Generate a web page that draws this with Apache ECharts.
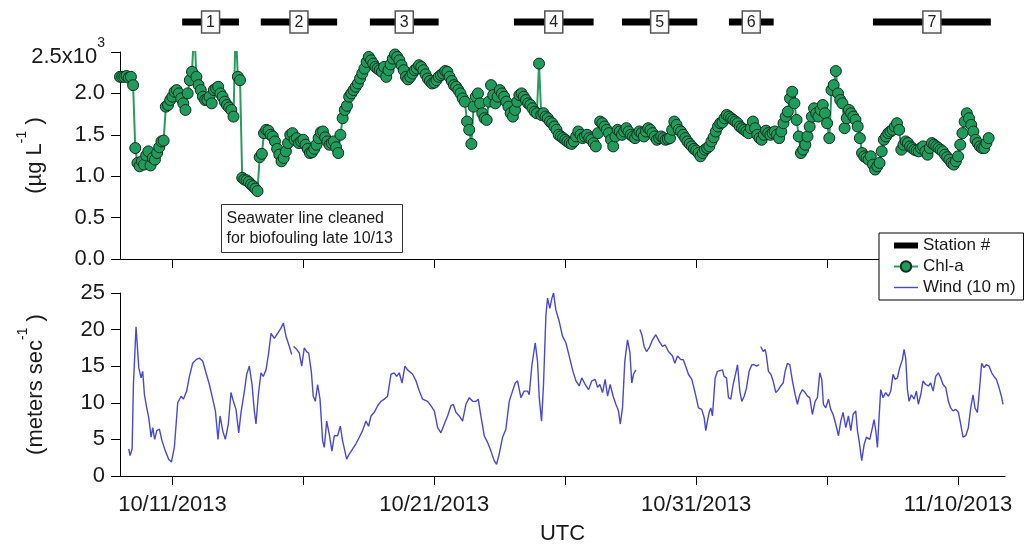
<!DOCTYPE html>
<html>
<head>
<meta charset="utf-8">
<script src="https://cdn.jsdelivr.net/npm/echarts@6/dist/echarts.min.js"></script>
<style>
  html, body { margin: 0; padding: 0; background: #fff; }
  #chart { width: 1024px; height: 546px; }
</style>
</head>
<body>
<div id="chart"></div>
<script>
// Cruise record: chlorophyll-a fluorescence (top) and 10 m wind speed (bottom), Oct-Nov 2013, UTC.
const START = '2013-10-09T00:00:00Z';
const END_HOURS = 811;

// Station occupation periods (UTC)
const stationNames = ['1', '2', '3', '4', '5', '6', '7'];
const stationStart = ['2013-10-11T09:00Z', '2013-10-14T09:00Z', '2013-10-18T13:00Z', '2013-10-24T01:00Z',
                      '2013-10-28T04:00Z', '2013-11-01T06:00Z', '2013-11-06T18:00Z'];
const stationEnd   = ['2013-10-13T13:00Z', '2013-10-17T07:00Z', '2013-10-21T04:00Z', '2013-10-27T02:00Z',
                      '2013-10-31T01:00Z', '2013-11-02T23:00Z', '2013-11-11T06:00Z'];

// Chl-a, sampled every 2 h from START (µg/L)
const chlStepHours = 2;
const chlValues = [
  2200, 2200, 2200, 2210, 2190, 2200, 2100, 1340, 1160, 1120,
  1180, 1140, 1250, 1300, 1130, 1220, 1200, 1280, 1350, 1420,
  1430, 1840, 1860, 1920, 1960, 2020, 2040, 2000, 1940, 1880,
  1800, 2000, 2160, 2260, 2800, 2200, 2100, 2040, 1960, 1920,
  1920, 1960, 1880, 2040, 2060, 2080, 2000, 1960, 1900, 1860,
  1830, 1800, 1720, 2800, 2200, 2160, 980, 960, 950, 930,
  900, 880, 850, 820, 1230, 1270, 1520, 1560, 1550, 1500,
  1480, 1420, 1330, 1260, 1180, 1220, 1300, 1400, 1500, 1520,
  1440, 1460, 1400, 1420, 1440, 1380, 1330, 1280, 1290, 1330,
  1380, 1460, 1530, 1540, 1470, 1420, 1380, 1400, 1420, 1350,
  1280, 1500, 1700, 1800, 1850, 1960, 2000, 2040, 2080, 2120,
  2180, 2240, 2300, 2380, 2440, 2400, 2360, 2320, 2300, 2280,
  2260, 2320, 2200, 2280, 2350, 2420, 2470, 2440, 2400, 2340,
  2280, 2200, 2170, 2200, 2240, 2280, 2300, 2340, 2320, 2280,
  2230, 2180, 2150, 2120, 2130, 2160, 2200, 2220, 2240, 2270,
  2260, 2200, 2150, 2100, 2080, 2040, 2000, 1940, 1900, 1660,
  1560, 1390, 1840, 1960, 2000, 1880, 1760, 1700, 1680, 1900,
  2100, 1980, 1880, 1960, 2040, 2000, 1960, 1900, 1840, 1760,
  1720, 1800, 1900, 1980, 2000, 1960, 1920, 1880, 1860, 1820,
  1780, 1760, 2360, 1740, 1760, 1720, 1700, 1660, 1640, 1600,
  1560, 1500, 1480, 1460, 1440, 1420, 1400, 1390, 1420, 1480,
  1540, 1500, 1460, 1480, 1500, 1460, 1440, 1400, 1360, 1520,
  1660, 1640, 1600, 1560, 1520, 1440, 1360, 1480, 1560, 1540,
  1500, 1540, 1580, 1540, 1500, 1480, 1460, 1500, 1540, 1520,
  1480, 1540, 1580, 1560, 1520, 1480, 1440, 1460, 1480, 1460,
  1440, 1450, 1460, 1560, 1660, 1620, 1560, 1540, 1500, 1460,
  1420, 1390, 1360, 1330, 1310, 1280, 1240, 1280, 1320, 1340,
  1360, 1420, 1470, 1540, 1600, 1640, 1650, 1700, 1740, 1720,
  1700, 1680, 1660, 1640, 1600, 1580, 1560, 1540, 1520, 1580,
  1660, 1580, 1500, 1460, 1440, 1500, 1550, 1520, 1500, 1520,
  1540, 1500, 1460, 1540, 1640, 1720, 1780, 1940, 2020, 1880,
  1680, 1480, 1280, 1320, 1380, 1480, 1600, 1720, 1820, 1760,
  1720, 1800, 1860, 1760, 1640, 1460, 2040, 2100, 2270, 2000,
  1920, 1880, 1580, 1700, 1800, 1760, 1720, 1680, 1600, 1460,
  1280, 1240, 1220, 1200, 1240, 1140, 1080, 1120, 1160, 1300,
  1440, 1480, 1520, 1540, 1560, 1600, 1640, 1560, 1320, 1380,
  1420, 1400, 1360, 1340, 1320, 1310, 1300, 1340, 1360, 1300,
  1260, 1340, 1400, 1380, 1360, 1340, 1320, 1300, 1260, 1230,
  1200, 1160, 1140, 1180, 1240, 1380, 1520, 1660, 1760, 1700,
  1620, 1540, 1440, 1400, 1360, 1340, 1340, 1400, 1460
];

// Wind at 10 m: [hours since START, m/s]; null marks a data gap
const windRecords = [
  [8.0,3.7],[9.2,2.8],[11.1,3.7],[12.3,12.5],[14.7,20.4],[15.9,20.2],[17.2,14.8],[19.3,13.4],[20.8,14.3],[22.4,11.1],
  [24.5,9.3],[26.3,8.0],[28.5,5.3],[30.0,6.6],[31.8,5.0],[33.7,6.2],[36.1,6.4],[38.5,4.8],[41.6,3.4],[44.6,2.3],
  [47.1,1.9],[49.8,3.9],[52.9,10.0],[56.0,10.9],[58.1,10.5],[61.1,11.6],[63.6,13.6],[66.6,15.4],[69.7,15.9],[72.7,16.1],
  [75.8,15.7],[78.8,14.1],[81.9,12.5],[85.0,10.5],[87.4,8.9],[89.8,5.0],[91.7,8.2],[94.1,6.2],[96.5,5.0],[99.3,7.1],
  [101.7,11.4],[103.9,10.2],[106.3,9.1],[108.8,5.9],[110.9,8.7],[114.0,11.6],[116.1,13.9],[118.5,15.0],[121.0,12.5],[123.1,8.9],
  [124.6,7.1],[126.8,11.1],[129.2,14.1],[131.3,13.6],[133.8,14.5],[136.2,16.8],[138.4,19.5],[141.4,18.8],[144.5,19.5],[147.5,20.2],
  [149.7,20.9],[152.1,19.1],[155.2,17.7],[157.3,16.6],[158.2,null],[159.1,17.7],[161.9,17.3],[164.3,16.8],[166.5,15.0],[168.9,17.5],
  [171.0,17.0],[172.9,16.8],[175.3,14.3],[177.1,10.9],[179.0,10.2],[181.1,12.5],[183.3,10.5],[185.7,4.8],[187.2,3.9],[189.4,7.5],
  [191.8,5.7],[194.2,3.4],[196.4,5.5],[199.4,5.5],[201.9,6.8],[204.0,4.8],[207.7,2.3],[210.1,3.0],[213.2,3.7],[216.2,4.4],
  [219.3,5.3],[222.3,6.2],[225.4,7.5],[227.8,6.8],[230.0,8.2],[233.0,8.7],[236.1,9.6],[239.1,10.2],[242.2,10.5],[245.2,10.9],
  [248.3,13.9],[251.3,14.1],[253.5,13.6],[255.9,14.1],[258.4,12.7],[261.1,15.0],[263.5,14.5],
  [265.1,14.3],[268.2,13.9],[271.2,13.0],[274.3,11.6],[277.3,10.5],[281.9,10.2],[284.9,9.6],[288.0,8.9],[291.1,6.6],[294.1,5.9],
  [297.2,7.1],[300.2,8.2],[303.3,9.6],[305.4,9.8],[307.8,8.7],[310.9,8.2],[313.9,7.5],[317.0,9.8],[320.1,10.7],[323.1,10.2],
  [326.2,10.2],[328.3,10.5],[330.7,8.2],[333.8,5.5],[336.8,4.6],[339.9,3.4],[342.9,2.1],[345.1,1.6],[347.5,3.0],[350.6,5.3],
  [353.6,6.4],[356.7,10.2],[359.7,11.6],[362.2,12.7],[364.3,13.0],[365.8,13.2],[367.4,10.7],[370.4,11.6],[373.5,11.6],[375.0,11.1],
  [377.5,15.2],[380.5,18.2],[382.6,15.7],[384.2,10.7],[386.3,7.5],[388.1,12.5],[390.3,22.0],[391.8,24.3],[393.9,22.9],[395.8,24.3],
  [397.3,25.0],[399.4,22.7],[402.5,21.1],[405.5,19.1],[408.6,18.2],[411.6,16.4],[414.7,14.5],[417.8,13.0],[420.8,12.3],[423.2,13.4],
  [426.3,12.5],[429.4,11.8],[432.4,13.0],[435.5,13.2],[437.6,12.1],[439.7,12.5],[442.2,11.4],[444.6,13.2],[446.8,10.9],[449.2,12.5],
  [451.9,10.9],[454.4,9.8],[456.8,8.9],[458.4,7.1],[460.5,9.3],[462.6,15.7],[465.1,18.6],[467.2,17.0],[469.0,12.7],[470.6,13.9],
  [472.7,14.5],[474.5,null],[476.4,20.0],[478.2,19.3],[480.3,17.7],[482.5,17.0],[484.9,17.5],[488.0,18.6],[491.0,19.3],[494.1,18.4],
  [497.1,17.7],[499.6,17.9],[502.6,17.0],[506.3,16.4],[508.4,15.4],[510.9,16.4],[513.9,15.9],[516.1,15.9],[517.9,15.2],[520.9,13.9],
  [524.0,13.2],[527.0,11.4],[530.1,9.3],[533.1,9.1],[535.3,8.0],[536.8,6.2],[538.3,7.5],[539.9,8.7],[541.4,9.3],[542.9,8.2],
  [545.4,13.4],[547.5,14.3],[549.0,14.1],
  [552.1,14.5],[553.6,13.6],[555.8,13.4],[557.6,10.7],[559.7,10.5],[561.9,12.5],[564.3,14.1],[565.9,15.2],[568.0,11.6],[569.8,10.2],
  [572.0,10.9],[574.1,12.0],[576.5,14.3],[579.0,15.2],[581.1,15.2],[583.3,15.0],[585.7,15.2],[586.5,null],[587.2,17.7],[589.4,17.0],
  [591.2,17.3],[592.4,16.4],[594.2,14.3],[596.4,13.9],[598.5,13.0],[601.0,11.4],[603.4,11.8],[605.5,12.3],[607.7,12.7],[609.5,14.3],
  [611.6,15.4],[613.8,15.2],[616.2,13.0],[618.7,11.1],[620.8,9.8],[622.9,11.1],[625.4,11.8],[627.8,11.4],[630.0,10.9],[632.1,10.7],
  [634.5,8.4],[637.0,10.2],[639.1,10.7],[641.3,14.1],[643.1,13.2],[644.6,9.8],[646.8,9.3],[649.2,10.5],[651.3,9.1],[653.5,8.4],
  [655.9,7.1],[658.4,5.5],[660.5,7.5],[662.6,8.7],[665.1,6.6],[667.5,8.2],[669.7,6.2],[671.8,8.4],[674.2,8.9],[675.8,6.2],
  [677.3,4.8],[679.7,2.1],[681.9,4.3],[684.0,5.3],[687.1,5.0],[689.5,6.6],[691.0,7.7],[692.6,6.2],[694.1,3.9],[695.6,8.0],
  [697.1,11.8],[699.3,10.7],[701.7,11.4],[704.2,10.9],[706.3,11.6],[708.4,13.9],[710.3,13.2],[712.4,13.4],[714.5,14.8],[717.0,15.9],
  [718.5,17.3],[720.0,16.1],[721.6,11.8],[723.1,10.2],[725.2,11.1],[727.7,10.5],[729.8,11.6],[731.6,9.8],[733.8,11.1],[735.9,13.0],
  [738.3,12.5],[740.8,12.3],[742.9,12.7],[745.1,11.6],[747.5,13.6],[749.9,14.1],[752.1,13.4],[754.2,12.5],[756.7,12.1],[759.1,10.2],
  [761.2,9.3],[763.4,8.9],[765.8,9.1],[768.3,8.7],[770.4,7.1],[772.5,5.3],[775.0,5.5],[777.4,6.6],[779.6,9.3],[781.7,11.1],
  [783.5,9.3],[785.7,8.7],[787.2,11.1],[789.6,15.4],[791.8,14.8],[793.9,15.2],[796.4,15.0],[798.8,14.1],[800.9,13.6],[803.1,13.2],
  [805.5,12.1],[808.0,10.7],[809.2,9.8]
];

// Axis ticks and labelled dates
const tickDates  = ['2013-10-11', '2013-10-16', '2013-10-21', '2013-10-26', '2013-10-31', '2013-11-05', '2013-11-10'];
const labelDates = ['2013-10-11', '2013-10-21', '2013-10-31', '2013-11-10'];
const chlTicks = [0, 500, 1000, 1500, 2000, 2500];

const HOUR = 3600 * 1000;
const T0 = Date.parse(START);
const TMAX = T0 + END_HOURS * HOUR;
const FONT = '"Liberation Sans", Arial, sans-serif';
const INK = '#1a1a1a';
const FS = 22;

const pad2 = n => (n < 10 ? '0' : '') + n;
const fmtDate = v => {
  const d = new Date(v);
  return pad2(d.getUTCMonth() + 1) + '/' + pad2(d.getUTCDate()) + '/' + d.getUTCFullYear();
};

const chlData = chlValues.map((v, i) => [T0 + i * chlStepHours * HOUR, v]);
const windData = windRecords.map(([h, v]) => [T0 + h * HOUR, v]);
const stationData = stationStart.map((s, i) => [Date.parse(s), Date.parse(stationEnd[i])]);

const axisLine = { show: true, lineStyle: { color: '#000', width: 1 } };
const tickVals = tickDates.map(d => Date.parse(d + 'T00:00:00Z'));
const labelVals = labelDates.map(d => Date.parse(d + 'T00:00:00Z'));

// rich styles for superscripts: base text sits at the bottom of a taller line, exponent at its top
const supRich = {
  n: { fontSize: FS, color: INK, fontFamily: FONT, lineHeight: 24, verticalAlign: 'bottom' },
  s: { fontSize: 14, color: INK, fontFamily: FONT, lineHeight: 31, verticalAlign: 'top' }
};

const chart = echarts.init(document.getElementById('chart'), null, { renderer: 'canvas' });

chart.setOption({
  animation: false,
  backgroundColor: '#fff',
  textStyle: { fontFamily: FONT },
  grid: [
    { left: 120, right: 19, top: 52, height: 207 },
    { left: 120, right: 19, top: 293, height: 184 },
    { left: 120, right: 19, top: 10, height: 24 }
  ],
  legend: {
    orient: 'vertical',
    left: 879, top: 233,
    padding: [4, 8, 4, 14],
    itemGap: 4,
    itemWidth: 24,
    itemHeight: 13,
    backgroundColor: '#fff',
    borderColor: '#000',
    borderWidth: 1,
    borderRadius: 0,
    textStyle: { fontSize: 17, color: INK, fontFamily: FONT },
    data: [
      { name: 'Station #', icon: 'path://M0,0H24V6H0Z', itemStyle: { color: '#000' } },
      { name: 'Chl-a' },
      { name: 'Wind (10 m)', icon: 'path://M0,0H24V1.4H0Z', itemStyle: { color: '#4848d4' } }
    ]
  },
  xAxis: [
    {
      gridIndex: 0, type: 'value', min: T0, max: TMAX,
      axisLine,
      axisTick: { show: true, length: 9, customValues: tickVals, lineStyle: { color: '#000' } },
      axisLabel: { show: false },
      splitLine: { show: false }
    },
    {
      gridIndex: 1, type: 'value', min: T0, max: TMAX,
      name: 'UTC', nameLocation: 'middle', nameGap: 47,
      nameTextStyle: { fontSize: FS, color: INK, fontFamily: FONT },
      axisLine,
      axisTick: { show: true, length: 9, customValues: tickVals, lineStyle: { color: '#000' } },
      axisLabel: { show: true, customValues: labelVals, formatter: fmtDate, margin: 18,
                   fontSize: FS, color: INK, fontFamily: FONT },
      splitLine: { show: false }
    },
    {
      gridIndex: 2, type: 'value', min: T0, max: TMAX, show: false
    }
  ],
  yAxis: [
    {
      gridIndex: 0, type: 'value', min: 0, max: 2500, interval: 500,
      name: '{n|(µg L}{s|-1}{n| )}', nameLocation: 'middle', nameRotate: 90, nameGap: 74,
      nameMoveOverlap: false,
      nameTextStyle: { fontSize: FS, color: INK, fontFamily: FONT, rich: supRich },
      axisLine,
      axisTick: { show: true, length: 9, lineStyle: { color: '#000' } },
      axisLabel: {
        margin: 15, fontSize: FS, color: INK, fontFamily: FONT,
        formatter: v => v === chlTicks[chlTicks.length - 1]
          ? '{n|' + (v / 1000).toFixed(1) + 'x10}{s|3}'
          : (v / 1000).toFixed(1),
        rich: supRich
      },
      splitLine: { show: false }
    },
    {
      gridIndex: 1, type: 'value', min: 0, max: 25, interval: 5,
      name: '{n|(meters sec}{s|-1}{n| )}', nameLocation: 'middle', nameRotate: 90, nameGap: 73,
      nameMoveOverlap: false,
      nameTextStyle: { fontSize: FS, color: INK, fontFamily: FONT, rich: supRich },
      axisLine,
      axisTick: { show: true, length: 9, lineStyle: { color: '#000' } },
      axisLabel: { margin: 15, fontSize: FS, color: INK, fontFamily: FONT },
      splitLine: { show: false }
    },
    {
      gridIndex: 2, type: 'value', min: -1, max: 1, show: false
    }
  ],
  series: [
    {
      name: 'Station #',
      type: 'custom',
      xAxisIndex: 2, yAxisIndex: 2,
      itemStyle: { color: '#000' },
      encode: { x: [0, 1] },
      data: stationData,
      renderItem: (params, api) => {
        const a = api.coord([api.value(0), 0]);
        const b = api.coord([api.value(1), 0]);
        const y = a[1];
        const mid = (a[0] + b[0]) / 2;
        return {
          type: 'group',
          children: [
            { type: 'rect', shape: { x: a[0], y: y - 3.5, width: b[0] - a[0], height: 7 }, style: { fill: '#000' } },
            { type: 'rect', shape: { x: mid - 9, y: y - 11, width: 18, height: 22 },
              style: { fill: '#fff', stroke: '#555', lineWidth: 1.5 } },
            { type: 'text', x: mid, y: y + 1,
              style: { text: stationNames[params.dataIndex], fill: '#222', font: '16px ' + FONT,
                       align: 'center', verticalAlign: 'middle' } }
          ]
        };
      }
    },
    {
      name: 'Chl-a',
      type: 'line',
      xAxisIndex: 0, yAxisIndex: 0,
      data: chlData,
      clip: true,
      symbol: 'circle',
      symbolSize: 11,
      showSymbol: true,
      showAllSymbol: true,
      lineStyle: { color: '#2a9a60', width: 2 },
      itemStyle: { color: '#1f9b5b', borderColor: '#0e2f1d', borderWidth: 1 },
      emphasis: { disabled: true }
    },
    {
      name: 'Wind (10 m)',
      type: 'line',
      xAxisIndex: 1, yAxisIndex: 1,
      data: windData,
      symbol: 'none',
      connectNulls: false,
      lineStyle: { color: '#4848d4', width: 1.4 },
      itemStyle: { color: '#4848d4' },
      emphasis: { disabled: true }
    }
  ],
  graphic: [
    {
      type: 'group', left: 221, top: 204,
      children: [
        { type: 'rect', shape: { x: 0, y: 0, width: 181, height: 48 },
          style: { fill: '#fff', stroke: '#333', lineWidth: 1 } },
        { type: 'text', x: 5, y: 4,
          style: { text: 'Seawater line cleaned\nfor biofouling late 10/13', font: '16px ' + FONT,
                   fill: INK, lineHeight: 20 } }
      ]
    }
  ]
});
</script>
</body>
</html>
